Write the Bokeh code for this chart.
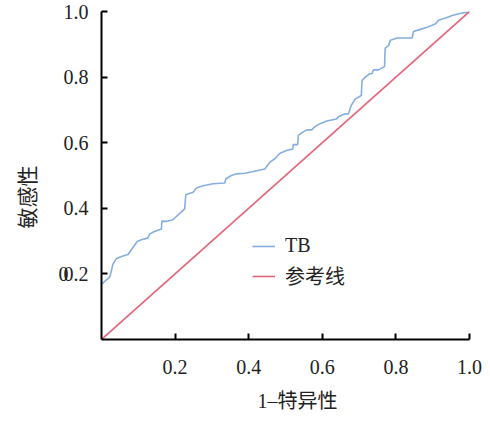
from bokeh.plotting import figure
from bokeh.models import (FixedTicker, LinearAxis, Legend, LegendItem,
                          PrintfTickFormatter, CustomJSTickFormatter, Title)
from bokeh.embed import file_html
from bokeh.resources import INLINE

# ROC curve of TB (1 - specificity, sensitivity)
fpr = [0.0, 0.012, 0.022, 0.026, 0.031, 0.04, 0.054, 0.072, 0.097, 0.108, 0.126,
       0.131, 0.144, 0.163, 0.164, 0.176, 0.194, 0.226, 0.229, 0.249, 0.258,
       0.276, 0.303, 0.335, 0.338, 0.353, 0.367, 0.39, 0.412, 0.444, 0.458,
       0.471, 0.485, 0.503, 0.52, 0.521, 0.533, 0.535, 0.544, 0.558, 0.571,
       0.58, 0.594, 0.612, 0.639, 0.644, 0.662, 0.671, 0.678, 0.689, 0.706,
       0.708, 0.717, 0.728, 0.735, 0.739, 0.753, 0.769, 0.771, 0.78, 0.785,
       0.803, 0.844, 0.848, 0.862, 0.885, 0.907, 0.916, 0.935, 0.953, 0.971,
       0.994, 1.0]
tpr = [0.168, 0.18, 0.19, 0.205, 0.23, 0.246, 0.253, 0.259, 0.299, 0.304, 0.309,
       0.322, 0.329, 0.337, 0.361, 0.36, 0.365, 0.398, 0.441, 0.449, 0.462,
       0.469, 0.475, 0.477, 0.49, 0.5, 0.505, 0.507, 0.512, 0.52, 0.541,
       0.551, 0.568, 0.576, 0.581, 0.594, 0.594, 0.622, 0.63, 0.639, 0.639,
       0.649, 0.658, 0.666, 0.672, 0.679, 0.688, 0.688, 0.712, 0.733, 0.744,
       0.79, 0.8, 0.81, 0.81, 0.822, 0.822, 0.832, 0.888, 0.896, 0.912,
       0.919, 0.919, 0.939, 0.944, 0.952, 0.962, 0.973, 0.98, 0.988, 0.993,
       0.998, 1.0]

ref_x = [0.0, 1.0]
ref_y = [0.0, 1.0]

x_ticks = [0.2, 0.4, 0.6, 0.8, 1.0]
y_ticks = [0.2, 0.4, 0.6, 0.8, 1.0]
stray_tick = [0.2]          # the overlapping "0" beside 0.2 in the reference
stray_text = "0"

series_names = ["TB", "参考线"]
x_title = "1–特异性"
y_title = "敏感性"

BLUE = "#86AEE0"
RED = "#E2677A"
FONT = "'Liberation Serif', 'Noto Sans CJK SC'"
TXT = "#222222"

p = figure(width=482, height=422, x_range=(0, 1), y_range=(0, 1),
           output_backend="svg", toolbar_location=None,
           min_border_left=101, min_border_right=13,
           min_border_top=11, min_border_bottom=83)
p.outline_line_color = None
p.grid.visible = False

r_tb = p.line(fpr, tpr, line_color=BLUE, line_width=1.6)
r_ref = p.line(ref_x, ref_y, line_color=RED, line_width=1.6)

for ax in (p.xaxis[0], p.yaxis[0]):
    ax.axis_line_color = "black"
    ax.axis_line_width = 2
    ax.major_tick_line_color = "black"
    ax.major_tick_line_width = 2
    ax.major_tick_in = 6
    ax.major_tick_out = 0
    ax.minor_tick_line_color = None
    ax.formatter = PrintfTickFormatter(format="%.1f")
    ax.major_label_text_font = "Liberation Serif"
    ax.major_label_text_font_size = "20px"
    ax.major_label_text_color = TXT

p.xaxis.ticker = FixedTicker(ticks=x_ticks)
p.yaxis.ticker = FixedTicker(ticks=y_ticks)
p.xaxis.major_label_standoff = 20
p.yaxis.major_label_standoff = 13

# stray "0" label overlapping the 0.2 tick label
stray = LinearAxis(ticker=FixedTicker(ticks=stray_tick),
                   formatter=CustomJSTickFormatter(code="return '%s'" % stray_text),
                   axis_line_color=None, major_tick_line_color=None,
                   minor_tick_line_color=None, major_label_standoff=-14,
                   major_label_text_font="Liberation Serif",
                   major_label_text_font_size="20px",
                   major_label_text_color=TXT)
p.add_layout(stray, "left")

p.add_layout(Title(text=x_title, align="left", offset=156, standoff=22,
                   text_font=FONT, text_font_size="20px",
                   text_font_style="normal", text_color=TXT), "below")
p.add_layout(Title(text=y_title, align="left", offset=111, standoff=28,
                   vertical_align="top",
                   text_font=FONT, text_font_size="21px",
                   text_font_style="normal", text_color=TXT), "left")

legend = Legend(items=[LegendItem(label=series_names[0], renderers=[r_tb]),
                       LegendItem(label=series_names[1], renderers=[r_ref])],
                location=(151, 49), border_line_color=None,
                background_fill_alpha=0, padding=0, margin=0,
                glyph_width=23, glyph_height=22, label_height=22,
                label_standoff=10, spacing=4,
                label_text_font=FONT, label_text_font_size="20px",
                label_text_color=TXT)
p.add_layout(legend)

open("out.html", "w").write(file_html(p, INLINE))
